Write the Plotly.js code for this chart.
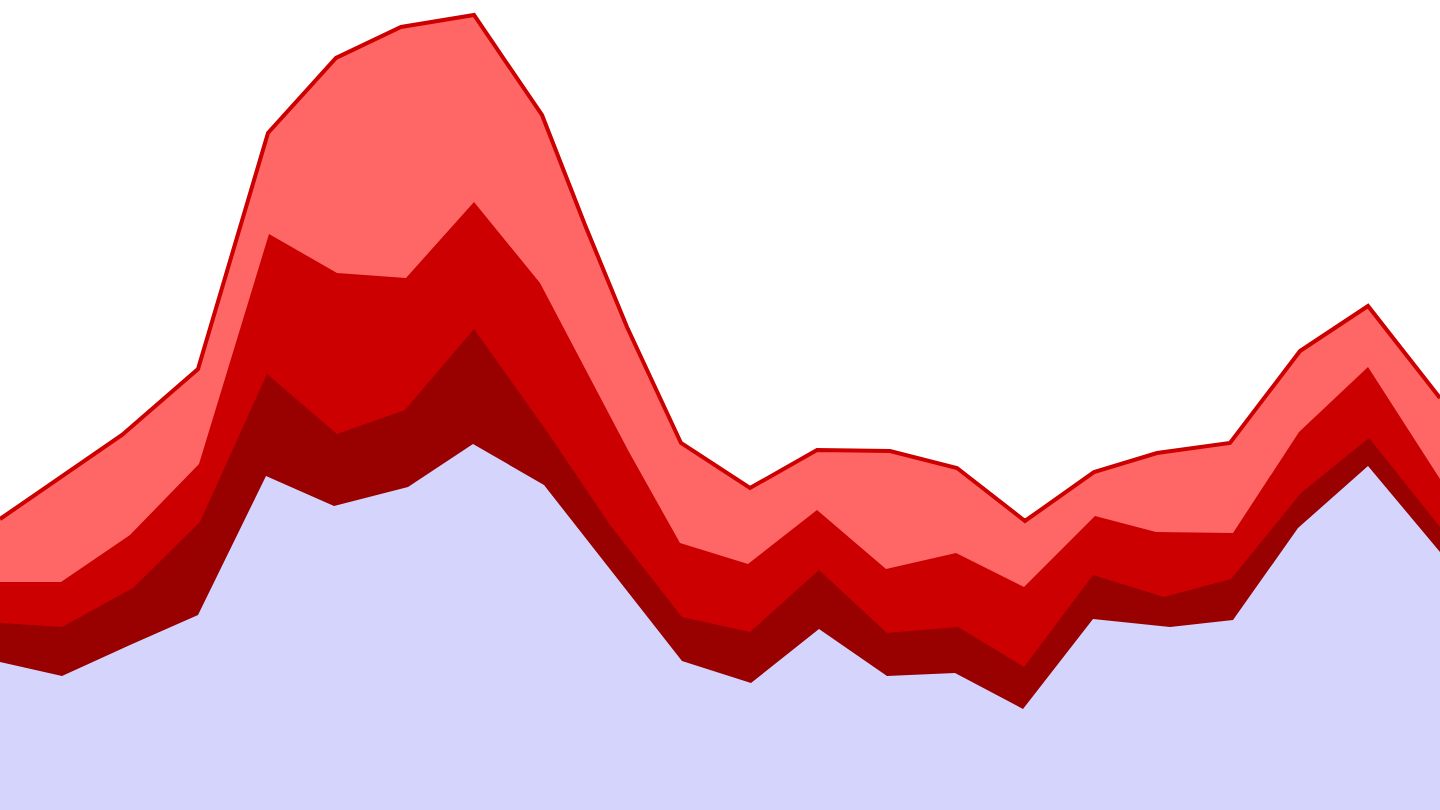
<!DOCTYPE html>
<html>
<head>
<meta charset="utf-8">
<script src="https://cdn.plot.ly/plotly-3.0.1.min.js"></script>
<style>
  html, body { margin: 0; padding: 0; background: #ffffff; overflow: hidden; }
  #chart { width: 1440px; height: 810px; }
</style>
</head>
<body>
<div id="chart"></div>
<script>
// Stacked boundaries (cumulative totals).
// Series 4 (top, light red) total
const xSeries4 = [0, 61, 122, 198, 268, 336, 401, 474, 542, 585, 627, 681, 750, 817, 890, 957, 1025, 1094, 1157, 1230, 1300, 1368, 1440];
const ySeries4 = [291, 333, 375, 441, 677, 752, 783, 795, 695, 585, 483, 367, 322, 360, 359, 342, 289, 338, 357, 367, 459, 504, 412];

// Series 3 (red) cumulative
const xSeries3 = [0, 61, 130, 199, 269, 337, 406, 474, 540, 629, 680, 748, 817, 886, 956, 1024, 1095, 1156, 1233, 1299, 1368, 1440];
const ySeries3 = [228, 228, 275, 346, 576, 537, 532, 608, 527, 358, 267, 246, 300, 241, 257, 223, 294, 278, 277, 378, 443, 331];

// Series 2 (dark red) cumulative
const xSeries2 = [0, 62, 133, 200, 267, 337, 405, 474, 548, 610, 682, 750, 819, 887, 958, 1024, 1093, 1164, 1231, 1301, 1369, 1440];
const ySeries2 = [187, 183, 222, 288, 436, 376, 400, 481, 377, 285, 193, 178, 240, 177, 183, 143, 235, 213, 231, 317, 372, 283];

// Series 1 (bottom, lavender)
const xSeries1 = [0, 62, 130, 198, 266, 334, 408, 473, 544, 612, 682, 751, 819, 887, 955, 1023, 1093, 1170, 1233, 1298, 1368, 1440];
const ySeries1 = [148, 134, 165, 195, 334, 304, 323, 366, 325, 238, 149, 127, 181, 134, 137, 101, 191, 183, 190, 282, 344, 258];

const traces = [
  { x: xSeries4, y: ySeries4, type: 'scatter', mode: 'lines', fill: 'tozeroy',
    fillcolor: '#ff6666', line: { color: '#cc0000', width: 4, shape: 'linear' }, hoverinfo: 'skip' },
  { x: xSeries3, y: ySeries3, type: 'scatter', mode: 'lines', fill: 'tozeroy',
    fillcolor: '#cc0000', line: { color: '#cc0000', width: 0 }, hoverinfo: 'skip' },
  { x: xSeries2, y: ySeries2, type: 'scatter', mode: 'lines', fill: 'tozeroy',
    fillcolor: '#990000', line: { color: '#990000', width: 0 }, hoverinfo: 'skip' },
  { x: xSeries1, y: ySeries1, type: 'scatter', mode: 'lines', fill: 'tozeroy',
    fillcolor: '#d4d4fd', line: { color: '#d4d4fd', width: 0 }, hoverinfo: 'skip' }
];

const layout = {
  width: 1440,
  height: 810,
  margin: { l: 0, r: 0, t: 0, b: 0, pad: 0 },
  paper_bgcolor: '#ffffff',
  plot_bgcolor: '#ffffff',
  showlegend: false,
  xaxis: { visible: false, range: [0, 1440], fixedrange: true },
  yaxis: { visible: false, range: [0, 810], fixedrange: true }
};

Plotly.newPlot('chart', traces, layout, { displayModeBar: false, staticPlot: true });
</script>
</body>
</html>
